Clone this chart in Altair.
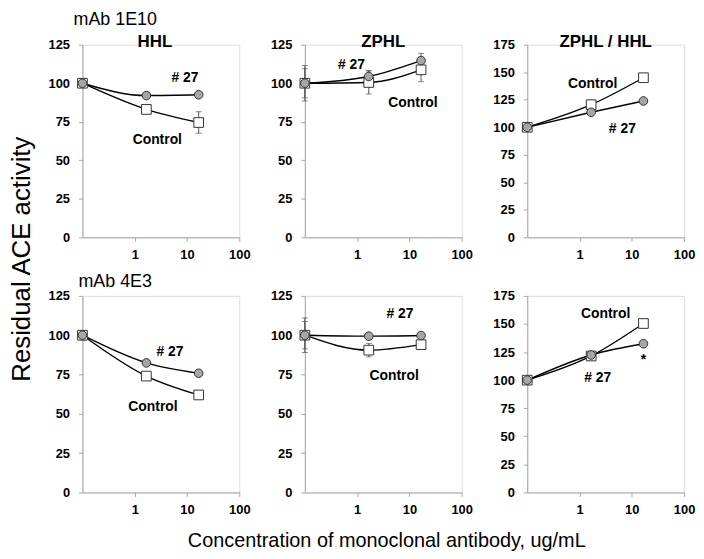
import altair as alt
import pandas as pd

FONT = "Liberation Sans"

# concentrations (ug/mL) of the three measurement points
conc = [0.1, 1.67, 16.7]

# ---- mAb 1E10 ----
e10_hhl_27 = [100, 92.0, 92.5]
e10_hhl_ctl = [100, 83.0, 74.5]
e10_hhl_27_err = [2.5, 0, 0]
e10_hhl_ctl_err = [2.5, 0, 7.0]

e10_zphl_27 = [100, 104.4, 114.7]
e10_zphl_ctl = [100, 100.5, 108.7]
e10_zphl_27_err = [9.5, 3.8, 4.7]
e10_zphl_ctl_err = [11.5, 7.5, 7.7]

e10_ratio_27 = [100, 113.6, 123.9]
e10_ratio_ctl = [100, 120.5, 145.0]

# ---- mAb 4E3 ----
e3_hhl_27 = [100, 82.4, 75.8]
e3_hhl_ctl = [100, 74.0, 62.0]
e3_hhl_27_err = [3.0, 0, 0]
e3_hhl_ctl_err = [2.0, 0, 0]

e3_zphl_27 = [100, 99.4, 99.8]
e3_zphl_ctl = [100, 90.5, 94.0]
e3_zphl_27_err = [8.7, 0, 0]
e3_zphl_ctl_err = [11.0, 4.3, 0]

e3_ratio_27 = [100, 122.4, 132.4]
e3_ratio_ctl = [100, 121.5, 150.4]

no_err = [0, 0, 0]

x_tick_values = [1, 10, 100]
panel_titles = ["HHL", "ZPHL", "ZPHL / HHL"]
row_titles = ["mAb 1E10", "mAb 4E3"]
y_title = "Residual ACE activity"
x_title = "Concentration of monoclonal antibody, ug/mL"

W = 158
AXIS_GREY = "#a6a6a6"


def panel(v27, vctl, e27, ectl, ymax, height, notes, extra_texts, xtitle=None):
    df = pd.DataFrame({
        "conc": conc * 2,
        "value": v27 + vctl,
        "err": e27 + ectl,
        "series": ["# 27"] * 3 + ["Control"] * 3,
    })
    df["lo"] = df["value"] - df["err"]
    df["hi"] = df["value"] + df["err"]

    xscale = alt.Scale(type="log", domain=[0.1, 100], nice=False)
    yscale = alt.Scale(domain=[0, ymax], nice=False, zero=True)
    xaxis_kw = dict(
        values=x_tick_values, format="~g", grid=False,
        labelFont=FONT, labelFontSize=13, labelFontWeight="bold", labelColor="black",
        labelFlush=False, labelOverlap=False, labelPadding=7,
        tickColor=AXIS_GREY, domainColor=AXIS_GREY, tickSize=4,
    )
    if xtitle:
        xaxis = alt.Axis(title=xtitle, titleFont=FONT, titleFontSize=20,
                         titleFontWeight="normal", titleColor="black",
                         titlePadding=14, titleX=W / 2 + 3, **xaxis_kw)
    else:
        xaxis = alt.Axis(title=None, **xaxis_kw)
    yaxis = alt.Axis(
        title=None, values=list(range(0, ymax + 1, 25)), grid=False,
        labelFont=FONT, labelFontSize=13, labelFontWeight="bold", labelColor="black",
        labelFlush=False, labelOverlap=False, labelPadding=9,
        tickColor=AXIS_GREY, domainColor=AXIS_GREY, tickSize=4,
    )
    X = alt.X("conc:Q", scale=xscale, axis=xaxis)
    base = alt.Chart(df)
    errs = base.transform_filter("datum.err > 0")
    rules = errs.mark_rule(color="#555555", strokeWidth=1).encode(
        x=X, y=alt.Y("lo:Q", scale=yscale, axis=yaxis), y2="hi:Q")
    cap_lo = errs.mark_tick(orient="horizontal", size=6, thickness=1, color="#555555").encode(
        x=X, y=alt.Y("lo:Q", scale=yscale, axis=yaxis))
    cap_hi = errs.mark_tick(orient="horizontal", size=6, thickness=1, color="#555555").encode(
        x=X, y=alt.Y("hi:Q", scale=yscale, axis=yaxis))
    Y = alt.Y("value:Q", scale=yscale, axis=yaxis)
    lines = base.mark_line(color="black", strokeWidth=1.4, interpolate="monotone").encode(
        x=X, y=Y, detail="series:N")
    squares = base.transform_filter("datum.series == 'Control'").mark_point(
        shape="square", filled=True, fill="white", stroke="#333333", strokeWidth=1,
        size=95, opacity=1).encode(x=X, y=Y)
    circles = base.transform_filter("datum.series == '# 27'").mark_point(
        shape="circle", filled=True, fill="#a6a6a6", stroke="#333333", strokeWidth=1,
        size=75, opacity=1).encode(x=X, y=Y)

    ndf = pd.DataFrame(notes, columns=["nx", "ny", "label"])
    note_layer = alt.Chart(ndf).mark_text(
        font=FONT, fontSize=14, fontWeight="bold", color="black",
        align="center", baseline="middle").encode(
        x=alt.X("nx:Q", scale=xscale, axis=xaxis),
        y=alt.Y("ny:Q", scale=yscale, axis=yaxis), text="label:N")

    layers = [rules, cap_lo, cap_hi, lines, squares, circles, note_layer]
    for (txt, px, py, size, weight, align, angle) in extra_texts:
        kw = dict(font=FONT, fontSize=size, fontWeight=weight, color="black",
                  align=align, baseline="alphabetic", text=txt)
        if angle:
            kw["angle"] = angle
        layers.append(alt.Chart(pd.DataFrame({"a": [0]})).mark_text(**kw).encode(
            x=alt.value(px), y=alt.value(py)))
    return alt.layer(*layers).properties(width=W, height=height)


TOP_H = 194
BOT_H = 198

p1 = panel(e10_hhl_27, e10_hhl_ctl, e10_hhl_27_err, e10_hhl_ctl_err, 125, TOP_H,
           [(9.1, 103.7, "# 27"), (2.7, 63.0, "Control")],
           [(panel_titles[0], 73, 2, 17, "bold", "center", None),
            (row_titles[0], -9, -20, 18, "normal", "left", None),
            (y_title, -53, 216, 26, "normal", "center", 270)])
p2 = panel(e10_zphl_27, e10_zphl_ctl, e10_zphl_27_err, e10_zphl_ctl_err, 125, TOP_H,
           [(0.78, 111.5, "# 27"), (11.7, 87.2, "Control")],
           [(panel_titles[1], 79, 2, 17, "bold", "center", None)])
p3 = panel(e10_ratio_27, e10_ratio_ctl, no_err, no_err, 175, TOP_H,
           [(1.79, 139.2, "Control"), (6.6, 98.6, "# 27")],
           [(panel_titles[2], 79, 2, 17, "bold", "center", None)])

p4 = panel(e3_hhl_27, e3_hhl_ctl, e3_hhl_27_err, e3_hhl_ctl_err, 125, BOT_H,
           [(4.7, 89.6, "# 27"), (2.23, 54.1, "Control")],
           [(row_titles[1], -4, -9, 18, "normal", "left", None)])
p5 = panel(e3_zphl_27, e3_zphl_ctl, e3_zphl_27_err, e3_zphl_ctl_err, 125, BOT_H,
           [(6.6, 113.4, "# 27"), (5.1, 73.9, "Control")],
           [], xtitle=x_title)
p6 = panel(e3_ratio_27, e3_ratio_ctl, no_err, no_err, 175, BOT_H,
           [(3.16, 158.8, "Control"), (2.23, 102.3, "# 27"), (16.7, 117.5, "*")],
           [])

chart = alt.concat(
    p1, p2, p3, p4, p5, p6, columns=3,
    spacing={"row": 59, "column": 66}, bounds="flush"
).properties(padding=0).configure_view(stroke=None).configure(font=FONT)

chart.save("out.html", embed_options={"renderer": "svg", "actions": False})
